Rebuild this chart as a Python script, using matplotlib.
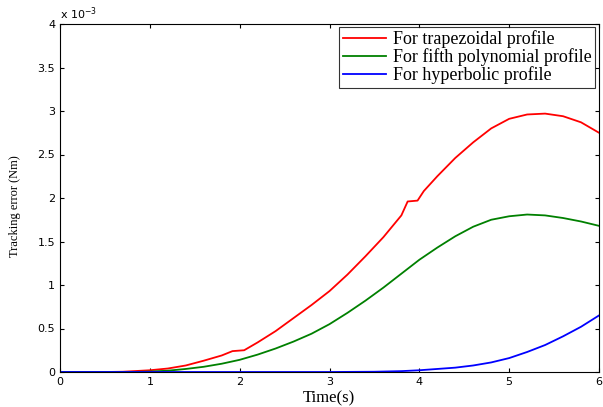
import matplotlib
matplotlib.use("Agg")
import matplotlib.pyplot as plt
import numpy as np

t_red = [0, 0.5, 0.7, 1.0, 1.2, 1.4, 1.6, 1.8, 1.92, 2.05, 2.2, 2.4, 2.6, 2.8, 3.0, 3.2, 3.4, 3.6, 3.8, 3.87, 3.98, 4.05, 4.2, 4.4, 4.6, 4.8, 5.0, 5.2, 5.4, 5.6, 5.8, 6.0]
v_red = [0, 0, 0.003, 0.02, 0.04, 0.075, 0.13, 0.19, 0.24, 0.25, 0.34, 0.47, 0.62, 0.77, 0.93, 1.12, 1.33, 1.55, 1.80, 1.96, 1.97, 2.08, 2.25, 2.46, 2.64, 2.80, 2.91, 2.96, 2.97, 2.94, 2.87, 2.75]

t_green = [0, 0.8, 1.0, 1.2, 1.4, 1.6, 1.8, 2.0, 2.2, 2.4, 2.6, 2.8, 3.0, 3.2, 3.4, 3.6, 3.8, 4.0, 4.2, 4.4, 4.6, 4.8, 5.0, 5.2, 5.4, 5.6, 5.8, 6.0]
v_green = [0, 0, 0.005, 0.015, 0.035, 0.06, 0.095, 0.14, 0.2, 0.27, 0.35, 0.44, 0.55, 0.68, 0.82, 0.97, 1.13, 1.29, 1.43, 1.56, 1.67, 1.75, 1.79, 1.81, 1.80, 1.77, 1.73, 1.68]

t_blue = [0, 3.0, 3.5, 3.8, 4.0, 4.2, 4.4, 4.6, 4.8, 5.0, 5.2, 5.4, 5.6, 5.8, 6.0]
v_blue = [0, 0, 0.003, 0.01, 0.02, 0.035, 0.05, 0.075, 0.11, 0.16, 0.23, 0.31, 0.41, 0.52, 0.65]

labels = ["For trapezoidal profile", "For fifth polynomial profile", "For hyperbolic profile"]
x_ticks = [0, 1, 2, 3, 4, 5, 6]
y_ticks = [0, 0.5, 1, 1.5, 2, 2.5, 3, 3.5, 4]
y_ticklabels = ["0", "0.5", "1", "1.5", "2", "2.5", "3", "3.5", "4"]

W, H = 603, 407
fig = plt.figure(figsize=(W/100, H/100), dpi=100)
ax = fig.add_axes([60/W, 35/H, 539/W, 348/H])

ax.plot(t_red, v_red, color="#ff0000", lw=1.3, label=labels[0])
ax.plot(t_green, v_green, color="#008000", lw=1.3, label=labels[1])
ax.plot(t_blue, v_blue, color="#0000ff", lw=1.3, label=labels[2])

ax.set_xlim(0, 6)
ax.set_ylim(0, 4)
ax.set_xticks(x_ticks)
ax.set_yticks(y_ticks)
ax.set_yticklabels(y_ticklabels)
ax.tick_params(direction="in", top=True, right=True, length=3, labelsize=8)
for lab in ax.get_xticklabels() + ax.get_yticklabels():
    lab.set_family("DejaVu Sans")
for s in ax.spines.values():
    s.set_linewidth(0.8)

fig.text(329/W, 1 - 398/H, "Time(s)", family="Liberation Serif", fontsize=12, ha="center", va="center")
fig.text(15/W, 1 - 206/H, "Tracking error (Nm)", family="Liberation Serif", fontsize=9,
         ha="center", va="center", rotation=90)
ax.text(0.0, 1.005, "x 10$^{-3}$", transform=ax.transAxes, fontsize=8, family="DejaVu Sans", va="bottom", ha="left")

leg = ax.legend(loc="upper right", bbox_to_anchor=(595/W, 1 - 27/H), bbox_transform=fig.transFigure,
                prop={"family": "Liberation Serif", "size": 13},
                frameon=True, fancybox=False, edgecolor="black", borderpad=0.2,
                labelspacing=0.0, handlelength=2.4, handletextpad=0.35, borderaxespad=0.0)
leg.get_frame().set_linewidth(0.8)

fig.savefig("out.png", dpi=100)
